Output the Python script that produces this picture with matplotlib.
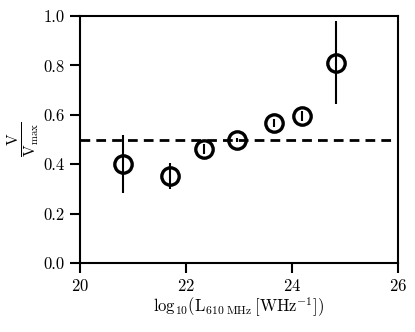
import numpy as np
import matplotlib
matplotlib.use('Agg')
import matplotlib.pyplot as plt

plt.rcParams['font.family'] = 'serif'
plt.rcParams['font.serif'] = ['cmr10']
plt.rcParams['mathtext.fontset'] = 'cm'
plt.rcParams['axes.formatter.use_mathtext'] = True

log_lum = [20.81, 21.70, 22.34, 22.96, 23.66, 24.19, 24.83]
v_vmax = [0.400, 0.352, 0.460, 0.498, 0.566, 0.595, 0.808]
err_lo = [0.117, 0.052, 0.020, 0.010, 0.015, 0.020, 0.164]
err_hi = [0.118, 0.053, 0.020, 0.010, 0.015, 0.020, 0.172]

fig = plt.figure(figsize=(4.15, 3.32), dpi=100)
ax = fig.add_axes([80 / 415, 69 / 332, 318 / 415, 247 / 332])

ax.axhline(0.5, color='black', ls='--', lw=2, dashes=(3.5, 2.2))
ax.errorbar(log_lum, v_vmax, yerr=[err_lo, err_hi], fmt='o', mfc='none',
            mec='black', mew=2.4, ms=12.5, ecolor='black', elinewidth=1.5,
            capsize=0, zorder=3)

ax.set_xlim(20, 26)
ax.set_ylim(0, 1)
ax.set_xticks([20, 22, 24, 26])
ax.set_yticks(np.arange(0, 1.01, 0.2))
ax.set_yticklabels(['0.0', '0.2', '0.4', '0.6', '0.8', '1.0'])
ax.tick_params(direction='out', length=7, width=1.5, labelsize=12, pad=4)
for s in ax.spines.values():
    s.set_linewidth(1.5)

ax.set_xlabel(r'$\mathrm{log}_{10}(\mathrm{L}_{\mathrm{610\ MHz}}\,[\mathrm{WHz}^{-1}])$',
              fontsize=12, labelpad=1)
ax.set_ylabel(r'$\frac{\mathrm{V}}{\mathrm{V_{max}}}$', fontsize=16, labelpad=2)

fig.savefig('out.png', dpi=100)
